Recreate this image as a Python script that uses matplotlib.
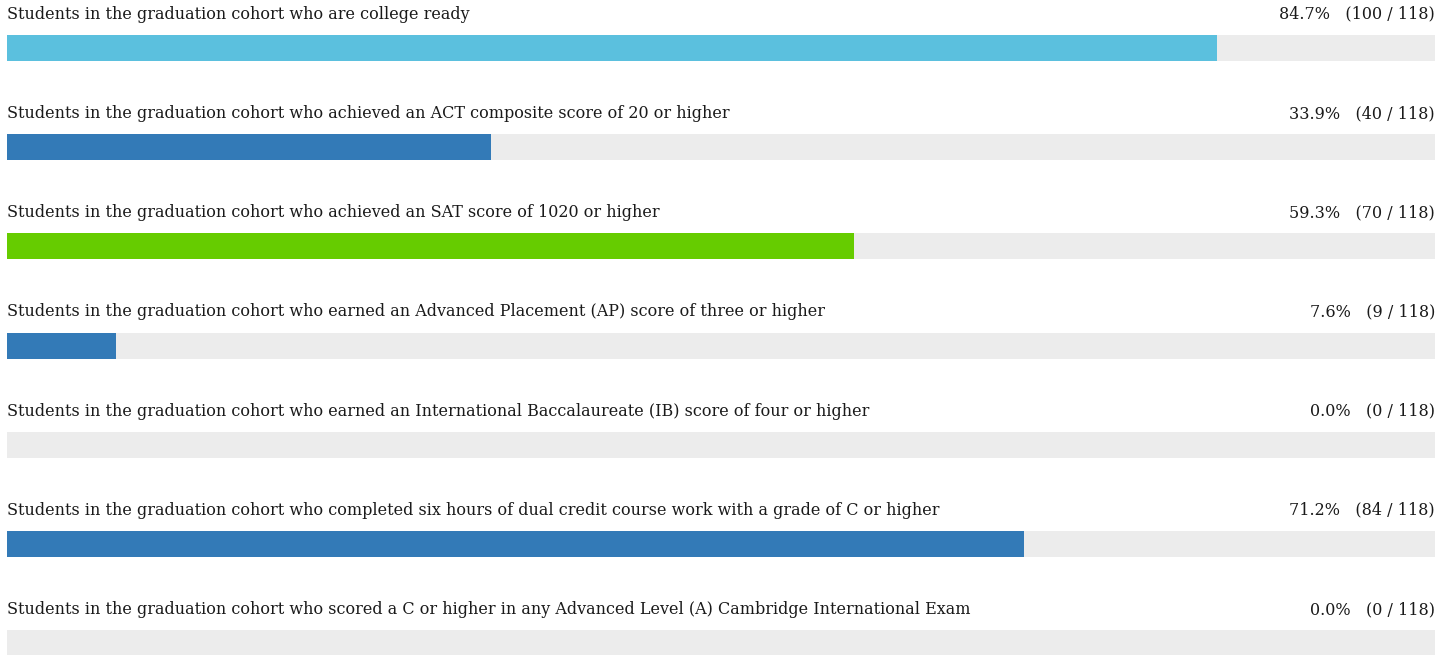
import matplotlib.pyplot as plt

labels = [
    "Students in the graduation cohort who are college ready",
    "Students in the graduation cohort who achieved an ACT composite score of 20 or higher",
    "Students in the graduation cohort who achieved an SAT score of 1020 or higher",
    "Students in the graduation cohort who earned an Advanced Placement (AP) score of three or higher",
    "Students in the graduation cohort who earned an International Baccalaureate (IB) score of four or higher",
    "Students in the graduation cohort who completed six hours of dual credit course work with a grade of C or higher",
    "Students in the graduation cohort who scored a C or higher in any Advanced Level (A) Cambridge International Exam",
]
counts = [100, 40, 70, 9, 0, 84, 0]
total = 118
colors = ["#5bc0de", "#337ab7", "#66cc00", "#337ab7", "#337ab7", "#337ab7", "#337ab7"]

plt.rcParams['font.family'] = ['DejaVu Serif']

fig = plt.figure(figsize=(14.51, 6.55), dpi=100)
ax = fig.add_axes([7 / 1451, 0, 1428 / 1451, 1])

rows = range(len(labels))
pcts = [c / total * 100 for c in counts]

ax.barh(rows, [100] * len(labels), height=0.262, color="#ececec")
ax.barh(rows, pcts, height=0.262, color=colors)

for i, (lab, p, c) in enumerate(zip(labels, pcts, counts)):
    ax.text(0, i - 0.34, lab, ha="left", va="center", fontsize=11.5, color="#1a1a1a")
    ax.text(100, i - 0.34, f"{p:.1f}%   ({c} / {total})", ha="right", va="center",
            fontsize=11.5, color="#1a1a1a")

ax.set_xlim(0, 100)
ax.set_ylim(6.119, -0.484)
ax.axis("off")

fig.savefig("out.png", dpi=100)
